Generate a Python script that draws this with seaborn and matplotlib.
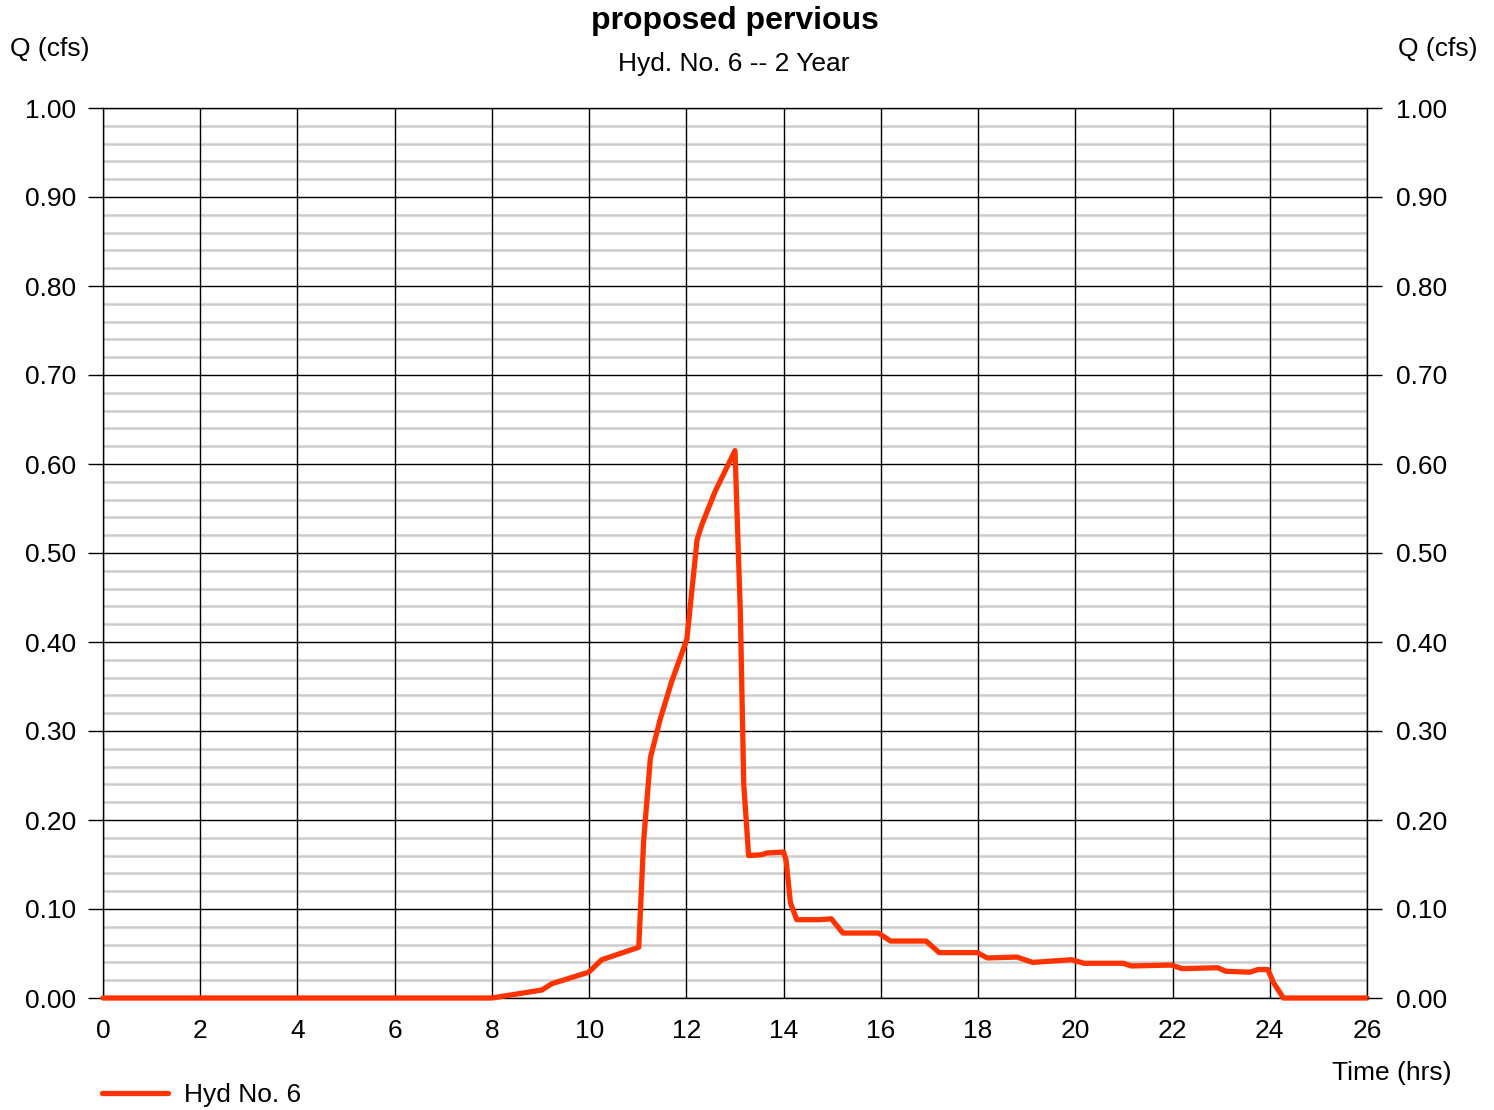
import numpy as np
import pandas as pd
import matplotlib
matplotlib.use("Agg")
import matplotlib.pyplot as plt
import seaborn as sns
from matplotlib.ticker import MultipleLocator

# hydrograph
time_hrs = [0.0, 8.0, 9.03, 9.23, 9.99, 10.26, 11.02, 11.12, 11.26, 11.46, 11.70, 12.01,
            12.22, 12.32, 12.59, 13.0, 13.11, 13.18, 13.28, 13.55, 13.66, 14.0, 14.05,
            14.14, 14.27, 14.75, 14.98, 15.22, 15.95, 16.2, 16.93, 17.2, 17.98, 18.19,
            18.8, 19.12, 19.93, 20.18, 20.99, 21.15, 21.97, 22.2, 22.93, 23.1, 23.59,
            23.76, 23.96, 24.08, 24.28, 26.0]
flow_cfs = [0.0, 0.0, 0.009, 0.016, 0.029, 0.043, 0.057, 0.176, 0.27, 0.313, 0.356, 0.403,
            0.515, 0.532, 0.569, 0.615, 0.433, 0.24, 0.16, 0.161, 0.163, 0.164, 0.155,
            0.107, 0.088, 0.088, 0.089, 0.073, 0.073, 0.064, 0.064, 0.051, 0.051, 0.045,
            0.046, 0.040, 0.043, 0.039, 0.039, 0.036, 0.037, 0.033, 0.034, 0.030, 0.029,
            0.032, 0.032, 0.017, 0.0, 0.0]
series_name = "Hyd No. 6"
x_ticks = list(range(0, 27, 2))
y_ticks = [i / 10 for i in range(0, 11)]

df = pd.DataFrame({"Time": time_hrs, "Q": flow_cfs, "Series": series_name})

sns.set_style("white")
plt.rcParams['font.family'] = ['Liberation Sans', 'DejaVu Sans']
plt.rcParams['text.color'] = 'black'
plt.rcParams['xtick.color'] = 'black'
plt.rcParams['ytick.color'] = 'black'
FS = 19

fig = plt.figure(figsize=(14.94, 11.10), dpi=100)
ax = fig.add_axes([103 / 1494, 1 - 998 / 1110, (1367 - 103) / 1494, (998 - 108) / 1110])

ax.set_xlim(0, 26)
ax.set_ylim(0, 1.0)
ax.yaxis.set_minor_locator(MultipleLocator(0.02))
ax.set_xticks(x_ticks)
ax.set_yticks(y_ticks)
ax.set_yticklabels([f"{v:.2f}" for v in y_ticks])
ax.grid(which='minor', axis='y', color='#cccccc', lw=1.8)
ax.grid(which='major', axis='y', color='black', lw=1.0)
ax.grid(which='major', axis='x', color='black', lw=1.0)
# vertical black lines sit over the grey minor lines
ax.yaxis.set_zorder(0.5)
ax.xaxis.set_zorder(1.5)

sns.lineplot(data=df, x="Time", y="Q", hue="Series", palette=["#ff3300"], lw=3.8,
             ax=ax, legend=False, clip_on=False, zorder=5,
             solid_joinstyle='round', solid_capstyle='round')

for s in ax.spines.values():
    s.set_color('black')
    s.set_linewidth(1.0)

ax.tick_params(axis='y', which='major', length=11, width=1, direction='out', pad=8,
               labelsize=FS, color='black', labelcolor='black')
ax.tick_params(axis='y', which='minor', length=0)
ax.tick_params(axis='x', length=0, pad=15, labelsize=FS, labelcolor='black')
ax.set_xlabel("")
ax.set_ylabel("")

ax2 = ax.twinx()
ax2.set_ylim(0, 1.0)
ax2.set_yticks(y_ticks)
ax2.set_yticklabels([f"{v:.2f}" for v in y_ticks])
ax2.tick_params(axis='y', length=11, width=1, direction='out', pad=10, labelsize=FS,
                color='black', labelcolor='black')
ax2.grid(False)
for s in ax2.spines.values():
    s.set_visible(False)

fig.text(735 / 1494, 1 - 21 / 1110, "proposed pervious", ha='center', va='center',
         fontsize=23, fontweight='bold')
fig.text(734 / 1494, 1 - 64 / 1110, "Hyd. No. 6 -- 2 Year", ha='center', va='center',
         fontsize=19)
fig.text(10 / 1494, 1 - 49 / 1110, "Q (cfs)", ha='left', va='center', fontsize=FS)
fig.text(1477 / 1494, 1 - 49 / 1110, "Q (cfs)", ha='right', va='center', fontsize=FS)
fig.text(1451 / 1494, 1 - 1073 / 1110, "Time (hrs)", ha='right', va='center', fontsize=FS)

handle = plt.Line2D([], [], color="#ff3300", lw=3.8, solid_capstyle='round')
fig.legend([handle], [series_name], loc='center left',
           bbox_to_anchor=(102 / 1494, 1 - 1095 / 1110), frameon=False, fontsize=FS,
           handlelength=2.5, handletextpad=0.6, borderaxespad=0, borderpad=0)

fig.savefig("out.png", dpi=100)
